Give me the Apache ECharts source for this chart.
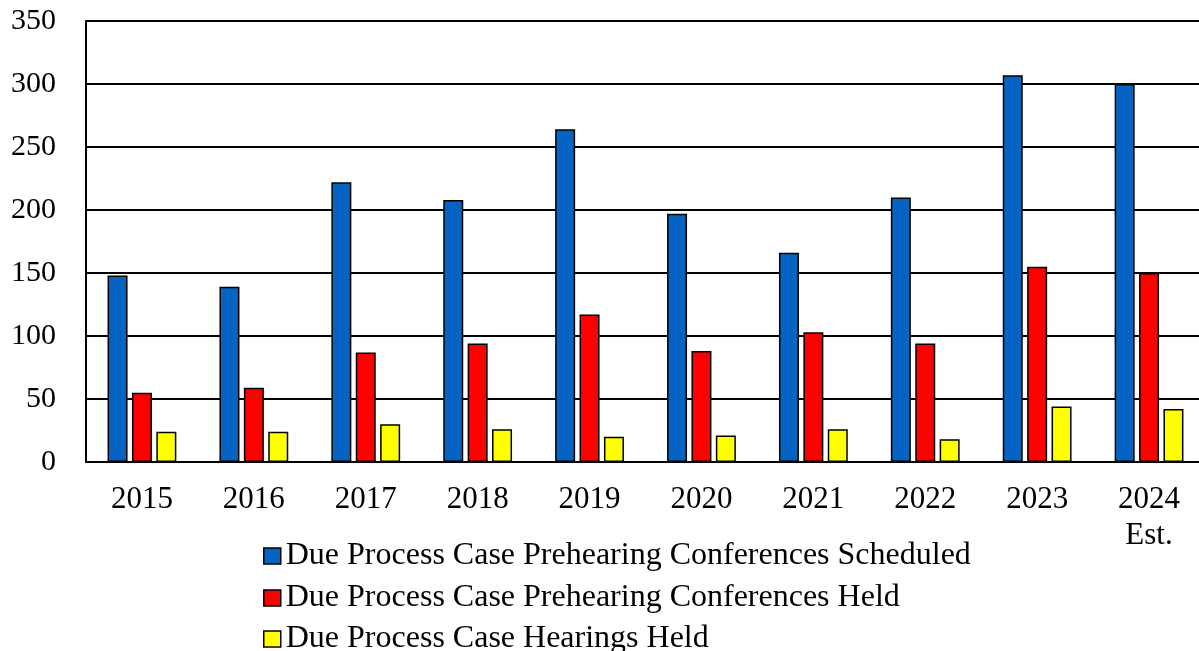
<!DOCTYPE html>
<html>
<head>
  <meta charset="utf-8" />
  <title>Due Process Cases</title>
  <script src="https://cdn.jsdelivr.net/npm/echarts@6/dist/echarts.min.js"></script>
  <style>
    html, body { margin: 0; padding: 0; background: #fff; }
    #main { width: 1199px; height: 651px; }
  </style>
</head>
<body>
  <div id="main"></div>
  <script>
    // data
    var years = ["2015", "2016", "2017", "2018", "2019", "2020", "2021", "2022", "2023", "2024\nEst."];
    var scheduled = [148, 139, 222, 208, 264, 197, 166, 210, 307, 300];
    var confHeld = [55, 59, 87, 94, 117, 88, 103, 94, 155, 150];
    var hearingsHeld = [24, 24, 30, 26, 20, 21, 26, 18, 44, 42];
    var seriesNames = [
      "Due Process Case Prehearing Conferences Scheduled",
      "Due Process Case Prehearing Conferences Held",
      "Due Process Case Hearings Held"
    ];
    var colors = ["#0563C1", "#FF0000", "#FFFF00"];
    var legendTops = [540, 582, 623];

    var font = "'Liberation Serif', 'Times New Roman', serif";
    var chart = echarts.init(document.getElementById("main"));

    function barSeries(i, values) {
      return {
        name: seriesNames[i],
        type: "bar",
        data: values,
        barWidth: 20,
        barGap: "22%",
        itemStyle: { color: colors[i], borderColor: "#000", borderWidth: 1.5 }
      };
    }

    // one legend per row so the rows don't wrap into columns
    var legends = seriesNames.map(function (name, i) {
      return {
        orient: "vertical",
        left: 263,
        top: legendTops[i],
        padding: 0,
        itemWidth: 17,
        itemHeight: 16,
        icon: "rect",
        data: [name],
        textStyle: { fontFamily: font, fontSize: 32, color: "#000" },
        itemStyle: { borderColor: "#000", borderWidth: 1.5 }
      };
    });

    chart.setOption({
      animation: false,
      textStyle: { fontFamily: font, color: "#000" },
      // plot runs a little past the right edge, as in the original
      grid: {
        left: 86, right: -6, top: 21, bottom: 189,
        containLabel: false, outerBoundsMode: "none"
      },
      legend: legends,
      xAxis: {
        type: "category",
        data: years,
        axisLine: { lineStyle: { color: "#000", width: 2 } },
        axisTick: { show: false },
        axisLabel: {
          fontFamily: font, fontSize: 31, color: "#000",
          margin: 20, lineHeight: 36, interval: 0
        }
      },
      yAxis: {
        type: "value",
        min: 0,
        max: 350,
        interval: 50,
        axisLine: { show: true, lineStyle: { color: "#000", width: 2 } },
        axisTick: { show: false },
        splitLine: { lineStyle: { color: "#000", width: 2 } },
        axisLabel: { fontFamily: font, fontSize: 30, color: "#000", margin: 30 }
      },
      series: [
        barSeries(0, scheduled),
        barSeries(1, confHeld),
        barSeries(2, hearingsHeld)
      ]
    });
  </script>
</body>
</html>
